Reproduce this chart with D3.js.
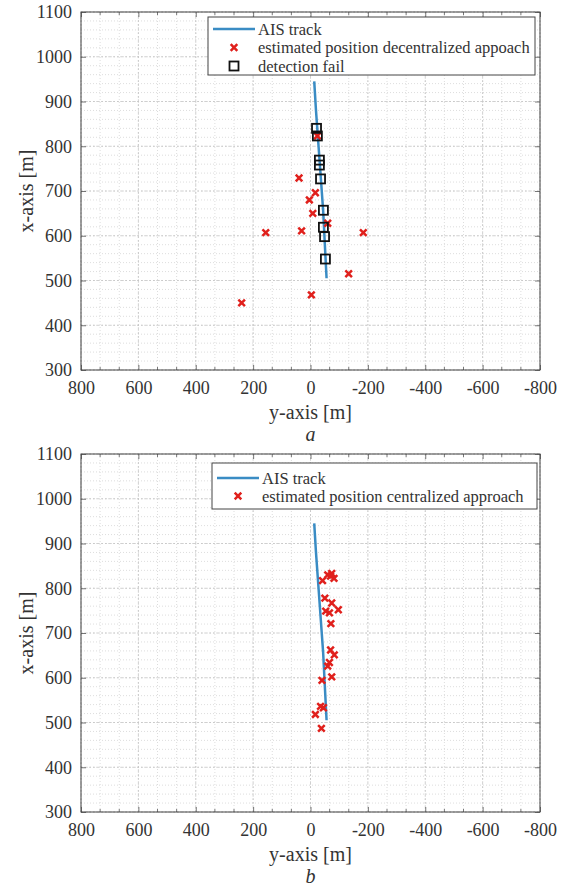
<!DOCTYPE html>
<html>
<head>
<meta charset="utf-8">
<script src="https://cdn.jsdelivr.net/npm/d3@7"></script>
<style>
  html, body { margin: 0; padding: 0; background: #fff; }
  svg { display: block; }
  svg text { font-family: "Liberation Serif", "Times New Roman", serif !important; fill: #333; }
</style>
</head>
<body>
<svg id="chart" width="571" height="890" font-family="Liberation Serif, serif"></svg>
<script>
// ---------- data ----------
const yAxisTicks = [800, 600, 400, 200, 0, -200, -400, -600, -800];   // horizontal axis ("y-axis [m]")
const xAxisTicks = [300, 400, 500, 600, 700, 800, 900, 1000, 1100];    // vertical axis ("x-axis [m]")
const yAxisTickLabels = ["800", "600", "400", "200", "0", "-200", "-400", "-600", "-800"];
const xAxisTickLabels = ["300", "400", "500", "600", "700", "800", "900", "1000", "1100"];

// AIS track: [x (north), y (east)]
const aisTrackX = [945, 881, 657, 505];
const aisTrackY = [-13, -19, -44, -56];

// panel a: estimated position, decentralized approach
const decX = [729, 696, 680, 650, 628, 607, 611, 607, 515, 468, 450, 823];
const decY = [40, -17, 4, -8, -60, 156, 31, -184, -133, -3, 240, -24];

// panel a: detection fail
const failX = [840, 823, 769, 758, 727, 657, 619, 598, 548];
const failY = [-21, -24, -31, -31, -35, -45, -45, -49, -52];

// panel b: estimated position, centralized approach
const cenX = [817, 830, 833, 822, 827, 778, 767, 752, 749, 745, 721, 662, 651, 634, 626, 602, 594, 536, 533, 518, 487];
const cenY = [-42, -60, -74, -82, -70, -50, -74, -97, -53, -66, -71, -70, -83, -66, -60, -74, -40, -35, -45, -17, -38];

// ---------- drawing ----------
const svg = d3.select("#chart");
const COL_LINE = "#3a8cc4";
const COL_RED = "#e0201c";
const SERIF = '"Liberation Serif", "Times New Roman", serif';

function drawPanel(cfg) {
  const g = svg.append("g");
  const sx = d3.scaleLinear().domain([800, -800]).range([81, 540]);
  const sy = d3.scaleLinear().domain([300, 1100]).range([cfg.bottom, cfg.top]);

  // minor grid
  const vMinor = d3.range(800, -800.1, -200 / 3);
  const hMinor = d3.range(300, 1100.1, 20);
  g.append("g").selectAll("line").data(vMinor).join("line")
    .attr("x1", d => sx(d)).attr("x2", d => sx(d))
    .attr("y1", cfg.top).attr("y2", cfg.bottom)
    .attr("stroke", "#d4d4d4").attr("stroke-width", 0.8).attr("stroke-dasharray", "1,2");
  g.append("g").selectAll("line").data(hMinor).join("line")
    .attr("y1", d => sy(d)).attr("y2", d => sy(d))
    .attr("x1", 81).attr("x2", 540)
    .attr("stroke", "#d4d4d4").attr("stroke-width", 0.8).attr("stroke-dasharray", "1,2");
  // major grid
  g.append("g").selectAll("line").data(yAxisTicks).join("line")
    .attr("x1", d => sx(d)).attr("x2", d => sx(d))
    .attr("y1", cfg.top).attr("y2", cfg.bottom)
    .attr("stroke", "#c4c4c4").attr("stroke-width", 0.8).attr("stroke-dasharray", "2,2");
  g.append("g").selectAll("line").data(xAxisTicks).join("line")
    .attr("y1", d => sy(d)).attr("y2", d => sy(d))
    .attr("x1", 81).attr("x2", 540)
    .attr("stroke", "#c4c4c4").attr("stroke-width", 0.8).attr("stroke-dasharray", "2,2");

  // axes (ticks inward, on all sides)
  const axB = d3.axisBottom(sx).tickValues(yAxisTicks).tickSize(-5).tickFormat((d, i) => yAxisTickLabels[i]).tickPadding(11);
  const axT = d3.axisTop(sx).tickValues(yAxisTicks).tickSize(-5).tickFormat("");
  const axL = d3.axisLeft(sy).tickValues(xAxisTicks).tickSize(-5).tickFormat((d, i) => xAxisTickLabels[i]).tickPadding(9);
  const axR = d3.axisRight(sy).tickValues(xAxisTicks).tickSize(-5).tickFormat("");
  const styleAxis = sel => {
    sel.attr("font-family", SERIF).attr("font-size", 18);
    sel.select(".domain").remove();
    sel.selectAll(".tick line").attr("stroke", "#555").attr("stroke-width", 0.8);
    sel.selectAll(".tick text").attr("fill", "#333").style("font-size", "18px")
      .style("font-family", SERIF);
  };
  g.append("g").attr("transform", `translate(0,${cfg.bottom})`).call(axB).call(styleAxis);
  g.append("g").attr("transform", `translate(0,${cfg.top})`).call(axT).call(styleAxis);
  g.append("g").attr("transform", `translate(81,0)`).call(axL).call(styleAxis);
  g.append("g").attr("transform", `translate(540,0)`).call(axR).call(styleAxis);

  // minor ticks on bottom/top
  const minorOnly = vMinor.filter(v => !yAxisTicks.some(t => Math.abs(t - v) < 1e-6));
  g.append("g").selectAll("line").data(minorOnly).join("line")
    .attr("x1", d => sx(d)).attr("x2", d => sx(d))
    .attr("y1", cfg.bottom).attr("y2", cfg.bottom - 3).attr("stroke", "#555").attr("stroke-width", 0.8);
  g.append("g").selectAll("line").data(minorOnly).join("line")
    .attr("x1", d => sx(d)).attr("x2", d => sx(d))
    .attr("y1", cfg.top).attr("y2", cfg.top + 3).attr("stroke", "#555").attr("stroke-width", 0.8);

  // box
  g.append("rect").attr("x", 81).attr("y", cfg.top).attr("width", 459).attr("height", cfg.bottom - cfg.top)
    .attr("fill", "none").attr("stroke", "#444").attr("stroke-width", 1);

  // AIS track
  const line = d3.line().x(d => sx(d[1])).y(d => sy(d[0]));
  g.append("path").datum(aisTrackX.map((x, i) => [x, aisTrackY[i]]))
    .attr("d", line).attr("fill", "none").attr("stroke", COL_LINE).attr("stroke-width", 2.5);

  const cross = (sel, s) => sel.append("path")
    .attr("d", `M${-s},${-s}L${s},${s}M${-s},${s}L${s},${-s}`)
    .attr("stroke", COL_RED).attr("stroke-width", 2.5).attr("fill", "none");

  // points
  if (cfg.redX) {
    const pts = cfg.redX.map((x, i) => [x, cfg.redY[i]]);
    g.append("g").selectAll("g").data(pts).join("g")
      .attr("transform", d => `translate(${sx(d[1])},${sy(d[0])})`)
      .each(function () { cross(d3.select(this), 3.3); });
  }
  if (cfg.failX) {
    const pts = cfg.failX.map((x, i) => [x, cfg.failY[i]]);
    g.append("g").selectAll("rect").data(pts).join("rect")
      .attr("x", d => sx(d[1]) - 4.5).attr("y", d => sy(d[0]) - 4.5)
      .attr("width", 9).attr("height", 9)
      .attr("fill", "none").attr("stroke", "#111").attr("stroke-width", 1.8);
  }

  // legend
  const L = cfg.legend;
  const lg = g.append("g");
  lg.append("rect").attr("x", L.x).attr("y", L.y).attr("width", L.w).attr("height", L.h)
    .attr("fill", "#fff").attr("stroke", "#444").attr("stroke-width", 1);
  L.items.forEach((it, i) => {
    const cy = L.y + L.first + i * L.step;
    if (it.type === "line") {
      lg.append("line").attr("x1", L.x + 5).attr("x2", L.x + 47).attr("y1", cy).attr("y2", cy)
        .attr("stroke", COL_LINE).attr("stroke-width", 2.5);
    } else if (it.type === "cross") {
      cross(lg.append("g").attr("transform", `translate(${L.x + 26},${cy})`), 3.3);
    } else {
      lg.append("rect").attr("x", L.x + 21.5).attr("y", cy - 4.5).attr("width", 9).attr("height", 9)
        .attr("fill", "none").attr("stroke", "#111").attr("stroke-width", 1.8);
    }
    lg.append("text").attr("x", L.x + 50).attr("y", cy).attr("dy", "0.35em")
      .style("font-size", "16.5px").style("font-family", SERIF).text(it.label);
  });

  // axis titles
  g.append("text").attr("transform", `translate(26,${(cfg.top + cfg.bottom) / 2}) rotate(-90)`)
    .attr("text-anchor", "middle").attr("dy", "0.35em").style("font-size", "20px").style("font-family", SERIF).text("x-axis [m]");
  g.append("text").attr("x", 310.5).attr("y", cfg.bottom + 42).attr("dy", "0.35em")
    .attr("text-anchor", "middle").style("font-size", "20px").style("font-family", SERIF).text("y-axis [m]");
  g.append("text").attr("x", 310.5).attr("y", cfg.bottom + 64).attr("dy", "0.35em")
    .attr("text-anchor", "middle").style("font-size", "20px").style("font-style", "italic").style("font-family", SERIF).text(cfg.caption);
}

drawPanel({
  top: 12, bottom: 370, caption: "a",
  redX: decX, redY: decY, failX: failX, failY: failY,
  legend: { x: 208, y: 17, w: 327, h: 58, first: 12, step: 18.5, items: [
    { type: "line", label: "AIS track" },
    { type: "cross", label: "estimated position decentralized appoach" },
    { type: "square", label: "detection fail" }
  ] }
});

drawPanel({
  top: 454, bottom: 812, caption: "b",
  redX: cenX, redY: cenY,
  legend: { x: 212, y: 463, w: 325, h: 46, first: 15, step: 18, items: [
    { type: "line", label: "AIS track" },
    { type: "cross", label: "estimated position centralized approach" }
  ] }
});
</script>
</body>
</html>
